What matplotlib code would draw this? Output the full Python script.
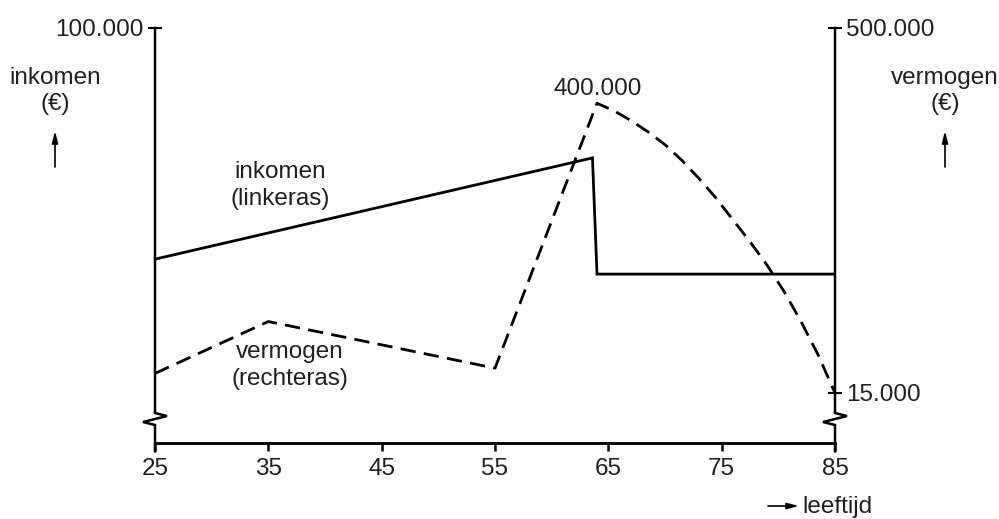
import numpy as np
import matplotlib
matplotlib.use('Agg')
import matplotlib.pyplot as plt

plt.rcParams['font.family'] = ['Liberation Sans', 'DejaVu Sans']

# data
ages_income = [25, 63.6, 64.0, 85]
income = [44300, 68700, 40700, 40700]

ages_wealth = [25, 35, 55, 64, 65.5, 67, 68.5, 70, 71.5, 73, 74.5, 76, 77.5, 79, 80.5, 82, 83.5, 85]
wealth = [41000, 110000, 48000, 400000, 390000, 377000, 362000, 345000, 324000, 300000,
          274000, 245000, 216000, 185000, 150000, 110000, 66000, 15000]

xticks = [25, 35, 45, 55, 65, 75, 85]
left_ticks = [100000]
left_labels = ['100.000']
right_ticks = [15000, 500000]
right_labels = ['15.000', '500.000']

txt = '#231f20'
fs = 17.5

fig = plt.figure(figsize=(9.99, 5.19), dpi=100)
W, H = 999, 519
ax = fig.add_axes([155 / W, (519 - 443) / H, 680 / W, 415 / H])
ax2 = ax.twinx()

ax.plot(ages_income, income, color='black', lw=2.0, solid_joinstyle='miter', zorder=3)
ax2.plot(ages_wealth, wealth, color='black', lw=2.0, linestyle=(0, (5.5, 3)), zorder=3)

ax.set_xlim(25, 85)
ax.set_ylim(0, 100000)
ax2.set_ylim(-51440, 500000)

for a in (ax, ax2):
    for s in ('top', 'left', 'right'):
        a.spines[s].set_visible(False)
    a.spines['bottom'].set_linewidth(1.8)
    a.patch.set_visible(False)

ax.set_xticks(xticks)
ax.set_xticklabels([str(t) for t in xticks])
ax.tick_params(axis='x', direction='out', length=6, width=1.8, pad=5, labelsize=fs, labelcolor=txt)
ax.set_yticks(left_ticks)
ax.set_yticklabels(left_labels)
ax.tick_params(axis='y', direction='inout', length=10, width=1.5, pad=3, labelsize=fs, labelcolor=txt)
ax2.set_yticks(right_ticks)
ax2.set_yticklabels(right_labels)
ax2.tick_params(axis='y', direction='inout', length=10, width=1.5, pad=3, labelsize=fs, labelcolor=txt)

# vertical axes with break zigzag
dx = 12 / 680
for x0 in (0, 1):
    xs = [x0, x0, x0 + dx, x0 - dx, x0, x0]
    ys = [1, 0.0723, 0.065, 0.0506, 0.0434, -0.02]
    ax.plot(xs, ys, color='black', lw=1.8, transform=ax.transAxes, clip_on=False,
            solid_joinstyle='miter')

# labels
def px(x, y):
    return x / W, 1 - y / H

arrow_style = '-|>,head_length=0.7,head_width=0.18'

fig.text(*px(55, 78), 'inkomen', ha='center', va='center', fontsize=fs, color=txt)
fig.text(*px(55, 104), '(€)', ha='center', va='center', fontsize=fs, color=txt)
fig.text(*px(945, 78), 'vermogen', ha='center', va='center', fontsize=fs, color=txt)
fig.text(*px(945, 104), '(€)', ha='center', va='center', fontsize=fs, color=txt)
for xc in (55, 945):
    fig.add_artist(matplotlib.patches.FancyArrowPatch(px(xc, 167), px(xc, 131), transform=fig.transFigure,
                   arrowstyle=arrow_style, mutation_scale=10,
                   color='black', lw=1.2, shrinkA=0, shrinkB=0))

fig.text(*px(598, 89), '400.000', ha='center', va='center', fontsize=fs, color=txt)
fig.text(*px(280, 172), 'inkomen', ha='center', va='center', fontsize=fs, color=txt)
fig.text(*px(280, 199), '(linkeras)', ha='center', va='center', fontsize=fs, color=txt)
fig.text(*px(290, 352), 'vermogen', ha='center', va='center', fontsize=fs, color=txt)
fig.text(*px(290, 379), '(rechteras)', ha='center', va='center', fontsize=fs, color=txt)

fig.text(*px(802, 507), 'leeftijd', ha='left', va='center', fontsize=fs, color=txt)
fig.add_artist(matplotlib.patches.FancyArrowPatch(px(768, 506), px(799, 506), transform=fig.transFigure,
               arrowstyle=arrow_style, mutation_scale=10,
               color='black', lw=1.2, shrinkA=0, shrinkB=0))

fig.savefig('out.png', dpi=100)
